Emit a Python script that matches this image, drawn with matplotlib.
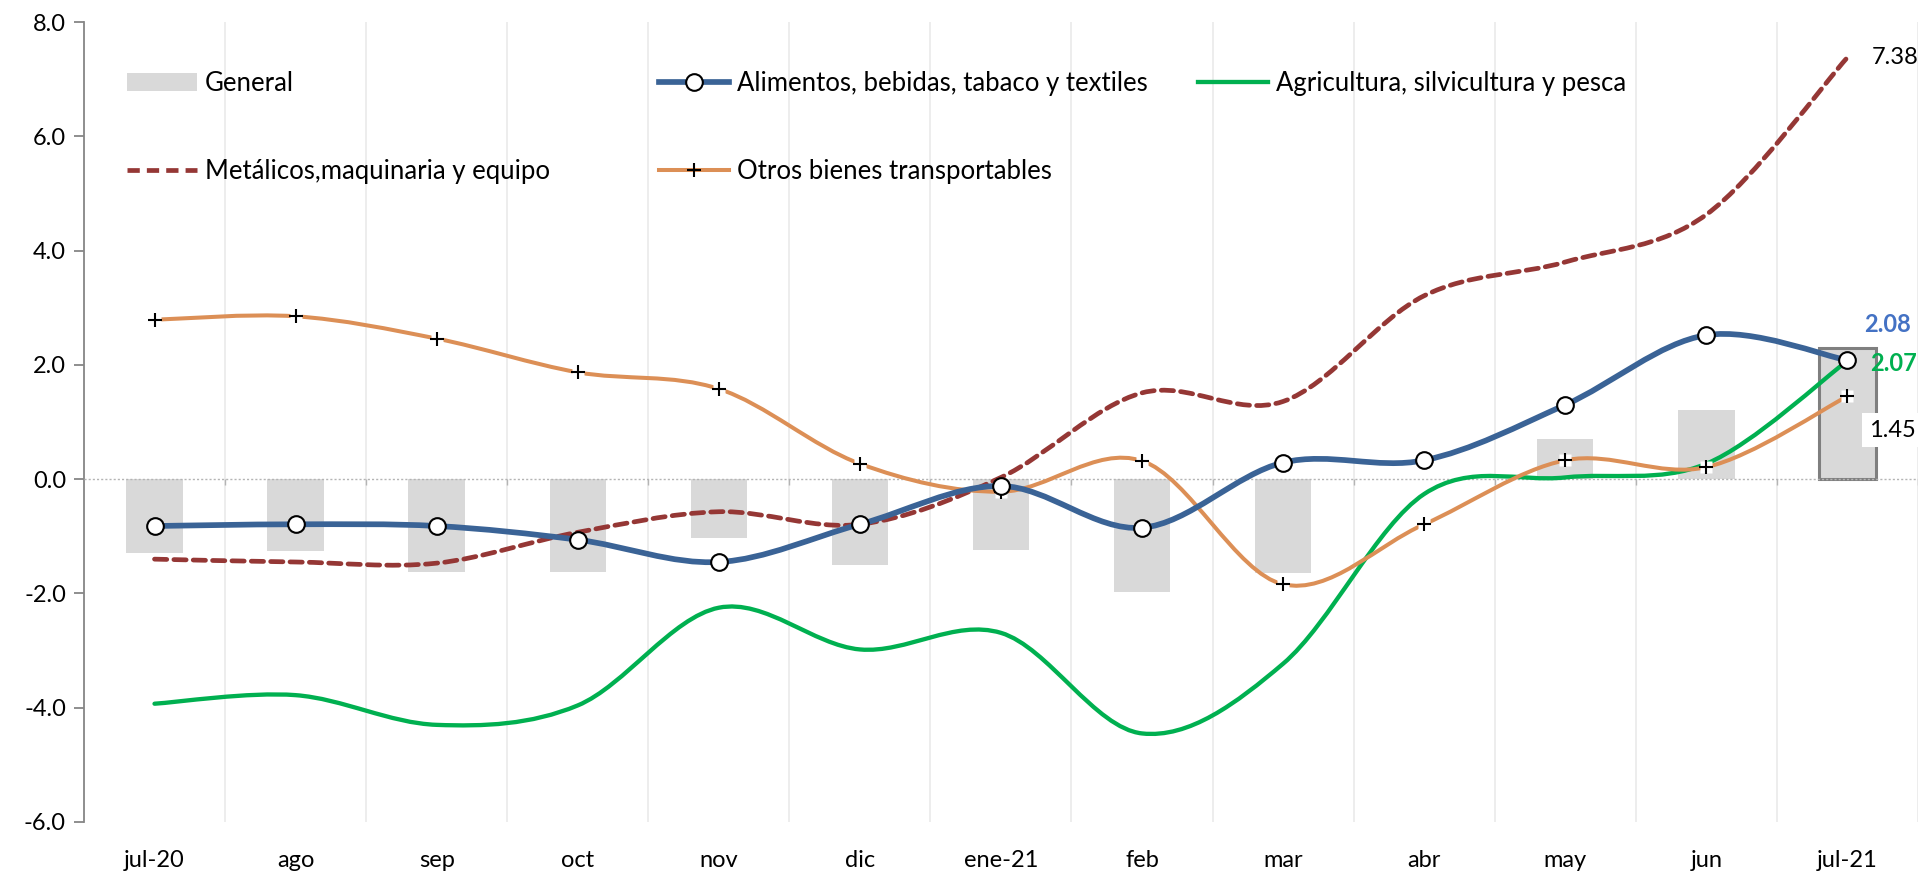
import matplotlib
matplotlib.use('Agg')
import matplotlib.pyplot as plt
import numpy as np
from matplotlib.path import Path
from matplotlib.patches import PathPatch, Patch
from matplotlib.lines import Line2D

plt.rcParams['font.family'] = ['Lato', 'DejaVu Sans']
plt.rcParams['font.size'] = 17
plt.rcParams['axes.unicode_minus'] = False

# ---------------- datos ----------------
meses = ['jul-20', 'ago', 'sep', 'oct', 'nov', 'dic', 'ene-21',
         'feb', 'mar', 'abr', 'may', 'jun', 'jul-21']
general = [-1.30, -1.26, -1.62, -1.62, -1.03, -1.50, -1.24,
           -1.98, -1.64, 0.01, 0.71, 1.21, 2.29]
alimentos = [-0.82, -0.79, -0.82, -1.06, -1.45, -0.79, -0.12,
             -0.85, 0.29, 0.33, 1.30, 2.52, 2.08]
agricultura = [-3.93, -3.78, -4.30, -3.96, -2.25, -2.98, -2.69,
               -4.45, -3.23, -0.26, 0.03, 0.27, 2.07]
metalicos = [-1.40, -1.45, -1.47, -0.93, -0.57, -0.79, 0.03,
             1.51, 1.36, 3.21, 3.80, 4.63, 7.38]
otros = [2.79, 2.85, 2.46, 1.87, 1.58, 0.27, -0.22,
         0.32, -1.84, -0.79, 0.33, 0.21, 1.45]

c_azul = '#3a6396'
c_verde = '#00b050'
c_rojo = '#953735'
c_naranja = '#dc8f56'
c_barra = '#d9d9d9'

fig = plt.figure(figsize=(19.26, 8.74), dpi=100)
ax = fig.add_axes([0.0436, 0.0595, 0.9522, 0.9153])

x = np.arange(len(meses))


def curva_suave(xs, ys, **kw):
    # suavizado tipo Excel: Bezier con tangentes Catmull-Rom
    pts = np.column_stack([xs, ys]).astype(float)
    n = len(pts)
    verts = [pts[0]]
    codes = [Path.MOVETO]
    for i in range(n - 1):
        p0 = pts[i - 1] if i > 0 else pts[i]
        p1 = pts[i]
        p2 = pts[i + 1]
        p3 = pts[i + 2] if i + 2 < n else pts[i + 1]
        c1 = p1 + (p2 - p0) / 6.0
        c2 = p2 - (p3 - p1) / 6.0
        verts += [c1, c2, p2]
        codes += [Path.CURVE4] * 3
    patch = PathPatch(Path(verts, codes), fill=False, **kw)
    ax.add_patch(patch)
    return patch


# barras
bars = ax.bar(x, general, width=0.4, color=c_barra, zorder=2)
bars[-1].set_edgecolor('#7f7f7f')
bars[-1].set_linewidth(2.2)

# lineas
curva_suave(x, agricultura, color=c_verde, lw=3.1, zorder=4, capstyle='round')
curva_suave(x, metalicos, color=c_rojo, lw=3.4, linestyle=(0, (2.6, 1.5)),
            zorder=4, capstyle='round')
curva_suave(x, otros, color=c_naranja, lw=2.9, zorder=5, capstyle='round')
curva_suave(x, alimentos, color=c_azul, lw=4.1, zorder=6, capstyle='round')

# marcadores
ax.plot(x, otros, ls='none', marker='s', ms=9, mfc='white', mec='none', zorder=7)
ax.plot(x, otros, ls='none', marker='+', ms=10, mew=1.5, color='black', zorder=8)
ax.plot(x, alimentos, ls='none', marker='o', ms=12, mfc='white', mec='black',
        mew=1.5, zorder=9)

# ejes
ax.set_xlim(-0.5, len(meses) - 0.5)
ax.set_ylim(-6, 8)
ax.set_yticks(np.arange(-6, 8.1, 2))
ax.yaxis.set_major_formatter(matplotlib.ticker.FormatStrFormatter('%.1f'))
ax.set_xticks(x)
ax.set_xticklabels(meses)
ax.set_xticks(np.arange(-0.5, len(meses)), minor=True)
ax.tick_params(axis='x', which='both', length=0, pad=20)
ax.tick_params(axis='y', length=7, color='#868686', width=1.3, pad=6)
ax.grid(which='minor', axis='x', color='#ececec', lw=1.3, zorder=0)
for s in ['top', 'right', 'bottom']:
    ax.spines[s].set_visible(False)
ax.spines['left'].set_color('#868686')
ax.spines['left'].set_linewidth(1.3)

# linea de cero con marcas de categoria
ax.axhline(0, color='#b4b4b4', lw=1.0, ls=(0, (1.5, 1.5)), zorder=3)
ax.vlines(np.arange(0.5, len(meses)), -0.1, 0, color='#b4b4b4', lw=1.0, zorder=3)

# etiquetas de datos
ax.text(x[-1] + 0.17, metalicos[-1], f'{metalicos[-1]:.2f}', ha='left',
        va='center', fontsize=17, color='black', zorder=10)
ax.text(x[-1] + 0.12, alimentos[-1] + 0.62, f'{alimentos[-1]:.2f}', ha='left',
        va='center', fontsize=17, color='#4472c4', fontweight='bold', zorder=10)
ax.text(x[-1] + 0.16, agricultura[-1] - 0.04, f'{agricultura[-1]:.2f}', ha='left',
        va='center', fontsize=17, color=c_verde, fontweight='bold', zorder=10)
ax.text(x[-1] + 0.15, otros[-1] - 0.59, f'{otros[-1]:.2f}', ha='left',
        va='center', fontsize=17, color='black', zorder=10,
        bbox=dict(facecolor='white', edgecolor='none', pad=5))

# leyenda (tres columnas independientes)
h_general = Patch(facecolor=c_barra, edgecolor='none')
h_alim = Line2D([], [], color=c_azul, lw=4.1, marker='o', ms=12, mfc='white',
                mec='black', mew=1.5)
h_agri = Line2D([], [], color=c_verde, lw=3.1)
h_met = Line2D([], [], color=c_rojo, lw=3.4, ls=(0, (2.6, 1.5)))
h_otros = Line2D([], [], color=c_naranja, lw=2.9, marker='+', ms=10, mew=1.5,
                 mec='black')

kw = dict(frameon=False, fontsize=18.5, handlelength=2.72, handletextpad=0.3,
          labelspacing=2.44, loc='upper left', borderaxespad=0, borderpad=0)
leg1 = ax.legend([h_general, h_met], ['General', 'Metálicos,maquinaria y equipo'],
                 bbox_to_anchor=(0.0235, 0.939), **kw)
ax.add_artist(leg1)
leg2 = ax.legend([h_alim, h_otros], ['Alimentos, bebidas, tabaco y textiles',
                                     'Otros bienes transportables'],
                 bbox_to_anchor=(0.3137, 0.939), **kw)
ax.add_artist(leg2)
ax.legend([h_agri], ['Agricultura, silvicultura y pesca'],
          bbox_to_anchor=(0.6075, 0.939), **kw)

fig.savefig('out.png', dpi=100)
